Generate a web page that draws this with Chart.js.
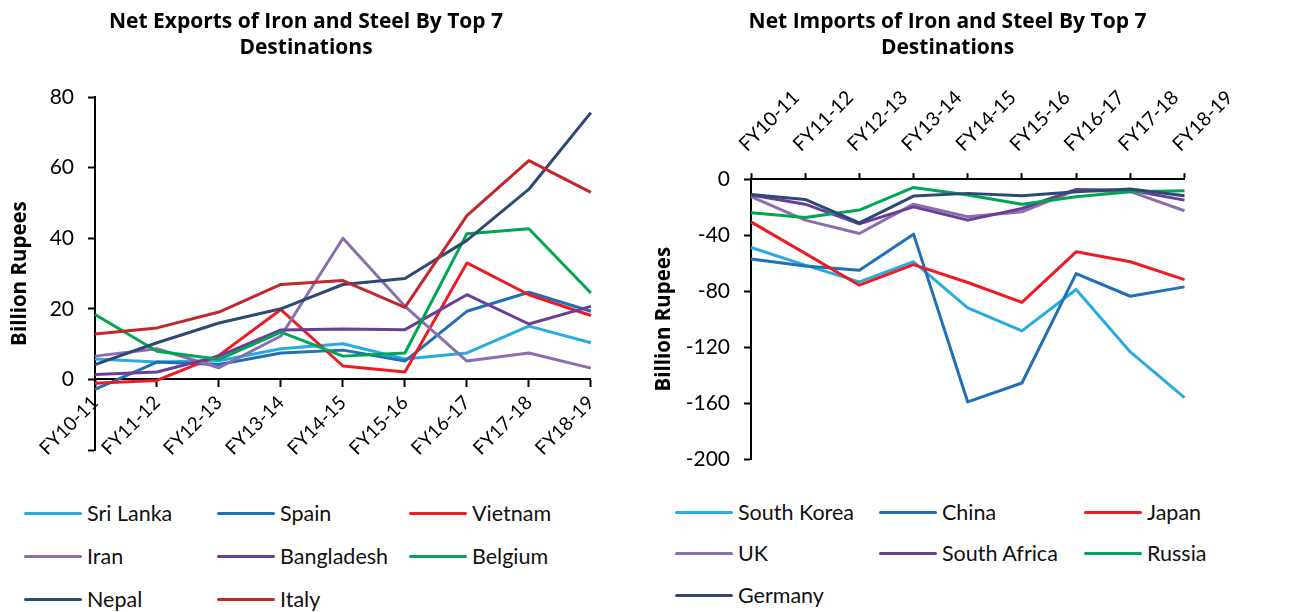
<!DOCTYPE html>
<html>
<head>
<meta charset="utf-8">
<script src="https://cdn.jsdelivr.net/npm/chart.js@4.4.1/dist/chart.umd.min.js"></script>
<style>
  html, body { margin: 0; padding: 0; background: #fff; }
  body { width: 1291px; height: 612px; position: relative; overflow: hidden; font-family: Lato, "Open Sans", sans-serif; }
  .wrap { position: absolute; top: 0; }
  .legend-item { position: absolute; display: flex; align-items: center; font-size: 21.5px; color: #111; white-space: nowrap; height: 26px; }
  .legend-item .swatch { display: inline-block; height: 3px; border-radius: 2px; margin-right: 5px; }
</style>
</head>
<body>
<div class="wrap" id="leftWrap" style="left:0;width:612px;height:480px;"><canvas id="exportsChart"></canvas></div>
<div class="wrap" id="rightWrap" style="left:640px;width:615px;height:486px;"><canvas id="importsChart"></canvas></div>
<div id="legendLeft"></div>
<div id="legendRight"></div>
<script>
// Fiscal years on the category axis
const categories = ['FY10-11', 'FY11-12', 'FY12-13', 'FY13-14', 'FY14-15', 'FY15-16', 'FY16-17', 'FY17-18', 'FY18-19'];

// Net exports (billion rupees)
const sriLanka   = [5.8, 4.9, 5.3, 8.7, 10.1, 5.8, 7.5, 15.1, 10.4];
const spain      = [-2.8, 4.9, 4.2, 7.5, 8.3, 5.2, 19.3, 24.7, 19.3];
const vietnam    = [-1.1, -0.3, 6.8, 19.8, 3.8, 2.1, 33.0, 24.0, 18.1];
const iran       = [6.6, 8.7, 3.3, 12.3, 40.0, 20.7, 5.2, 7.5, 3.2];
const bangladesh = [1.4, 2.1, 6.6, 14.0, 14.3, 14.1, 24.0, 15.7, 20.7];
const belgium    = [18.4, 8.0, 5.7, 13.4, 6.6, 7.5, 41.3, 42.7, 24.5];
const nepal      = [4.2, 10.4, 16.0, 20.0, 26.9, 28.6, 39.4, 53.9, 75.6];
const italy      = [12.9, 14.6, 19.1, 26.9, 28.0, 20.4, 46.4, 62.0, 53.0];

// Net imports (billion rupees)
const southKorea  = [-48.8, -61.4, -73.3, -59.0, -91.9, -108.3, -78.8, -123.3, -156.0];
const china       = [-57.1, -62.0, -65.0, -39.3, -159.0, -145.5, -67.4, -83.6, -76.9];
const japan       = [-30.5, -53.0, -75.7, -61.0, -73.8, -88.0, -51.9, -59.0, -71.7];
const uk          = [-12.6, -29.3, -38.8, -17.9, -26.9, -23.3, -7.9, -9.0, -22.6];
const southAfrica = [-11.4, -17.9, -32.0, -19.8, -29.3, -21.0, -7.4, -7.9, -15.0];
const russia      = [-24.0, -27.4, -22.1, -6.0, -11.4, -17.9, -12.6, -9.0, -8.3];
const germany     = [-11.0, -14.5, -31.2, -12.1, -10.2, -11.9, -9.0, -7.1, -11.9];

// Axis ticks
const exportTicks = { min: -20, max: 80, step: 20 };
const importTicks = { min: -200, max: 0, step: 40 };

const COLORS = {
  lightBlue: '#29abe2',
  blue: '#1f70b8',
  red: '#ed1c24',
  lavender: '#8a6fae',
  purple: '#6a3d9a',
  green: '#00a651',
  navy: '#2c4a74',
  darkRed: '#c1272d'
};

const FONT = 'Lato, "Open Sans", sans-serif';
const BOLD_FONT = '"Open Sans", Lato, sans-serif';

function series(label, data, color, idx) {
  return {
    label, data,
    borderColor: color, backgroundColor: color,
    borderWidth: 3, pointRadius: 0, pointHoverRadius: 0,
    tension: 0, fill: false, borderJoinStyle: 'round',
    order: -idx
  };
}

const exportSets = [
  ['Sri Lanka', sriLanka, COLORS.lightBlue],
  ['Spain', spain, COLORS.blue],
  ['Vietnam', vietnam, COLORS.red],
  ['Iran', iran, COLORS.lavender],
  ['Bangladesh', bangladesh, COLORS.purple],
  ['Belgium', belgium, COLORS.green],
  ['Nepal', nepal, COLORS.navy],
  ['Italy', italy, COLORS.darkRed]
].map((s, i) => series(s[0], s[1], s[2], i));

const importSets = [
  ['South Korea', southKorea, COLORS.lightBlue],
  ['China', china, COLORS.blue],
  ['Japan', japan, COLORS.red],
  ['UK', uk, COLORS.lavender],
  ['South Africa', southAfrica, COLORS.purple],
  ['Russia', russia, COLORS.green],
  ['Germany', germany, COLORS.navy]
].map((s, i) => series(s[0], s[1], s[2], i));

function titleOpts(lines, bottom) {
  return {
    display: true, text: lines, color: '#000',
    font: { family: BOLD_FONT, size: 21, weight: 'bold', lineHeight: 1.24 },
    padding: { top: 9, bottom: bottom }
  };
}

function axisTitle() {
  return { display: true, text: 'Billion Rupees', color: '#000', font: { family: BOLD_FONT, size: 20.5, weight: 'bold', lineHeight: 1.2 }, padding: { top: 8, bottom: 0 } };
}

const axisLine = { display: true, color: '#000', width: 2 };
const gridOpts = { drawOnChartArea: false, drawTicks: true, tickLength: 7, color: '#000', tickColor: '#000', tickWidth: 2 };

// Left: net exports, category axis crossing at zero
const exportsChart = new Chart(document.getElementById('exportsChart'), {
  type: 'line',
  data: { labels: categories, datasets: exportSets },
  options: {
    responsive: true, maintainAspectRatio: false, animation: false,
    layout: { padding: { left: 0, right: 0, top: 0, bottom: 30 } },
    plugins: {
      legend: { display: false }, tooltip: { enabled: false },
      title: titleOpts(['Net Exports of Iron and Steel By Top 7', 'Destinations'], 36)
    },
    scales: {
      x: {
        position: { y: 0 },
        offset: false,
        grid: gridOpts,
        border: axisLine,
        ticks: { autoSkip: false, maxRotation: 45, minRotation: 45, padding: 5, color: '#000', font: { family: FONT, size: 19 } }
      },
      y: {
        min: exportTicks.min, max: exportTicks.max,
        grid: gridOpts,
        border: axisLine,
        ticks: {
          stepSize: exportTicks.step, padding: 14, color: '#000',
          font: { family: FONT, size: 21 },
          callback: v => (v < 0 ? '' : v)
        },
        title: axisTitle(),
        afterFit: s => { s.width = 95; }
      }
    }
  }
});

// Right: net imports, category axis along the top
const importsChart = new Chart(document.getElementById('importsChart'), {
  type: 'line',
  data: { labels: categories, datasets: importSets },
  options: {
    responsive: true, maintainAspectRatio: false, animation: false,
    layout: { padding: { left: 0, right: 0, top: 0, bottom: 0 } },
    plugins: {
      legend: { display: false }, tooltip: { enabled: false },
      title: titleOpts(['Net Imports of Iron and Steel By Top 7', 'Destinations'], 10)
    },
    scales: {
      x: {
        position: 'top',
        offset: false,
        grid: Object.assign({}, gridOpts, { tickLength: 6 }),
        border: axisLine,
        ticks: { autoSkip: false, maxRotation: 45, minRotation: 45, padding: 17, labelOffset: 8, color: '#000', font: { family: FONT, size: 19.5 } },
        afterFit: s => { s.height = 179 - 71; }
      },
      y: {
        min: importTicks.min, max: importTicks.max,
        grid: gridOpts,
        border: axisLine,
        ticks: { stepSize: importTicks.step, padding: 14, color: '#000', font: { family: FONT, size: 21 } },
        title: Object.assign(axisTitle(), { padding: { top: 12, bottom: 0 } }),
        afterFit: s => { s.width = 111; }
      }
    }
  }
});

// HTML legends laid out in three columns
function buildLegend(chart, containerId, cols, rows, lineW) {
  const box = document.getElementById(containerId);
  chart.data.datasets.forEach((ds, i) => {
    const c = i % 3, r = Math.floor(i / 3);
    const el = document.createElement('div');
    el.className = 'legend-item';
    el.style.left = cols[c] + 'px';
    el.style.top = (rows[r] - 13) + 'px';
    const sw = document.createElement('span');
    sw.className = 'swatch';
    sw.style.width = lineW + 'px';
    sw.style.background = ds.borderColor;
    const tx = document.createElement('span');
    tx.textContent = ds.label;
    el.appendChild(sw); el.appendChild(tx);
    box.appendChild(el);
  });
}
buildLegend(exportsChart, 'legendLeft', [24, 217, 409], [513, 556, 599], 58);
buildLegend(importsChart, 'legendRight', [675, 879, 1084], [512, 553, 595], 58);
</script>
</body>
</html>
